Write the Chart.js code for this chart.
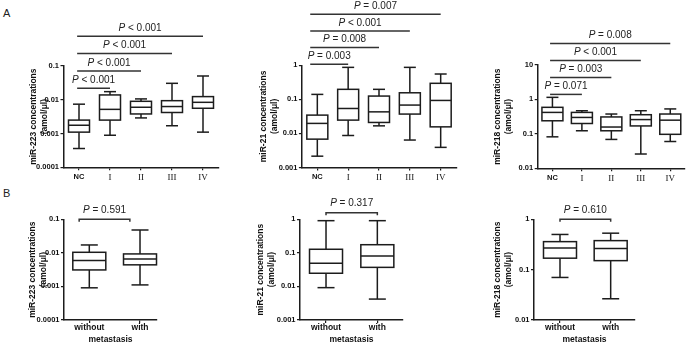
<!DOCTYPE html>
<html>
<head>
<meta charset="utf-8">
<script src="https://cdn.jsdelivr.net/npm/chart.js@4.4.1/dist/chart.umd.min.js"></script>
<style>
  body { margin: 0; background: #fff; }
  #wrap { position: relative; width: 697px; height: 346px; overflow: hidden; font-family: 'Liberation Sans', Arial, sans-serif; }
  #wrap canvas { position: absolute; left: 0; top: 0; }
  .tag { position: absolute; font-size: 11px; line-height: 11px; color: #222; }
</style>
</head>
<body>
<div id="wrap">
  <div class="tag" style="left:3px;top:8px">A</div>
  <div class="tag" style="left:3px;top:188px">B</div>
  <canvas id="a1" width="697" height="346"></canvas>
  <canvas id="a2" width="697" height="346"></canvas>
  <canvas id="a3" width="697" height="346"></canvas>
  <canvas id="b1" width="697" height="346"></canvas>
  <canvas id="b2" width="697" height="346"></canvas>
  <canvas id="b3" width="697" height="346"></canvas>
</div>
<script>
// categories
const stageCats = ['NC', 'I', 'II', 'III', 'IV'];
const metCats = ['without', 'with'];

// miR-223 by stage (amol/ul)
const mir223StageMin = [0.00036, 0.00089, 0.0029, 0.0017, 0.0011];
const mir223StageQ1  = [0.0011, 0.0025, 0.0038, 0.0042, 0.0056];
const mir223StageMed = [0.00176, 0.0052, 0.0060, 0.0063, 0.0084];
const mir223StageQ3  = [0.0025, 0.0139, 0.0090, 0.0094, 0.0124];
const mir223StageMax = [0.0074, 0.0174, 0.0106, 0.0307, 0.0506];

// miR-21 by stage
const mir21StageMin = [0.00215, 0.0087, 0.0167, 0.0064, 0.0039];
const mir21StageQ1  = [0.0068, 0.0246, 0.021, 0.037, 0.0156];
const mir21StageMed = [0.0197, 0.054, 0.043, 0.068, 0.093];
const mir21StageQ3  = [0.0345, 0.197, 0.125, 0.156, 0.296];
const mir21StageMax = [0.14, 0.87, 0.197, 0.87, 0.555];

// miR-218 by stage
const mir218StageMin = [0.082, 0.123, 0.069, 0.026, 0.060];
const mir218StageQ1  = [0.24, 0.20, 0.123, 0.17, 0.097];
const mir218StageMed = [0.42, 0.30, 0.158, 0.26, 0.25];
const mir218StageQ3  = [0.59, 0.42, 0.31, 0.36, 0.377];
const mir218StageMax = [1.15, 0.47, 0.377, 0.47, 0.53];

// by metastasis
const mir223MetMin = [0.00091, 0.00111];
const mir223MetQ1  = [0.0031, 0.0044];
const mir223MetMed = [0.0059, 0.0066];
const mir223MetQ3  = [0.0104, 0.0093];
const mir223MetMax = [0.0172, 0.048];

const mir21MetMin = [0.0092, 0.0042];
const mir21MetQ1  = [0.0247, 0.037];
const mir21MetMed = [0.049, 0.081];
const mir21MetQ3  = [0.128, 0.175];
const mir21MetMax = [0.91, 0.91];

const mir218MetMin = [0.070, 0.0264];
const mir218MetQ1  = [0.169, 0.151];
const mir218MetMed = [0.27, 0.262];
const mir218MetQ3  = [0.36, 0.377];
const mir218MetMax = [0.50, 0.53];

// p values (NC vs I, II, III, IV)
const mir223StageP = [' < 0.001', ' < 0.001', ' < 0.001', ' < 0.001'];
const mir21StageP  = [' = 0.003', ' = 0.008', ' < 0.001', ' = 0.007'];
const mir218StageP = [' = 0.071', ' = 0.003', ' < 0.001', ' = 0.008'];
const mir223MetP = ' = 0.591';
const mir21MetP  = ' = 0.317';
const mir218MetP = ' = 0.610';

// y tick values / labels
const ticks223 = [0.0001, 0.001, 0.01, 0.1];
const labels223 = ['0.0001', '0.001', '0.01', '0.1'];
const ticks21 = [0.001, 0.01, 0.1, 1];
const labels21 = ['0.001', '0.01', '0.1', '1'];
const ticks218Stage = [0.01, 0.1, 1, 10];
const labels218Stage = ['0.01', '0.1', '1', '10'];
const ticks218Met = [0.01, 0.1, 1];
const labels218Met = ['0.01', '0.1', '1'];

const SANS = "'Liberation Sans', Arial, sans-serif";
const INK = '#1c1c1c';

function pText(ctx, rest, cx, cy) {
  const it = 'italic 10px ' + SANS, nf = '10px ' + SANS;
  ctx.font = it;
  const wp = ctx.measureText('P').width;
  ctx.font = nf;
  const wr = ctx.measureText(rest).width;
  const x0 = cx - (wp + wr) / 2;
  ctx.fillStyle = '#222';
  ctx.textAlign = 'left';
  ctx.textBaseline = 'middle';
  ctx.font = it;
  ctx.fillText('P', x0, cy);
  ctx.font = nf;
  ctx.fillText(rest, x0 + wp, cy);
}

// boxes + whiskers under the library-drawn caps/medians, p-value bars on top
const boxLayer = {
  id: 'boxLayer',
  beforeDatasetsDraw(chart, args, o) {
    const {ctx, scales: {x, y}} = chart;
    const s = o.stats;
    ctx.save();
    ctx.lineWidth = 1.5;
    ctx.strokeStyle = INK;
    ctx.fillStyle = '#fff';
    s.med.forEach((m, i) => {
      const cx = x.getPixelForValue(i);
      const top = y.getPixelForValue(s.max[i]);
      const q3 = y.getPixelForValue(s.q3[i]);
      const q1 = y.getPixelForValue(s.q1[i]);
      const bot = y.getPixelForValue(s.min[i]);
      ctx.beginPath();
      ctx.moveTo(cx, top); ctx.lineTo(cx, q3);
      ctx.moveTo(cx, q1); ctx.lineTo(cx, bot);
      ctx.stroke();
      const hw = o.boxWidth / 2;
      ctx.fillRect(cx - hw, q3, hw * 2, q1 - q3);
      ctx.strokeRect(cx - hw, q3, hw * 2, q1 - q3);
    });
    ctx.restore();
  },
  afterDraw(chart, args, o) {
    const {ctx, scales: {x, y}} = chart;
    ctx.save();
    ctx.lineWidth = 1.5;
    ctx.strokeStyle = '#333';
    if (o.sig) {
      const y0 = y.getPixelForValue(o.sig.level);
      const xa = x.getPixelForValue(o.sig.from);
      o.sig.p.forEach((txt, r) => {
        const yy = y0 - r * o.sig.step;
        const xb = x.getPixelForValue(r + 1);
        ctx.beginPath();
        ctx.moveTo(xa, yy); ctx.lineTo(xb, yy);
        ctx.stroke();
        pText(ctx, txt, (xa + xb) / 2, yy - 8);
      });
    }
    if (o.bracket) {
      const b = o.bracket;
      const yy = y.getPixelForValue(b.level);
      const xa = x.getPixelForValue(b.from), xb = x.getPixelForValue(b.to);
      ctx.beginPath();
      ctx.moveTo(xa, yy + 2.5); ctx.lineTo(xa, yy); ctx.lineTo(xb, yy); ctx.lineTo(xb, yy + 2.5);
      ctx.stroke();
      pText(ctx, b.p, (xa + xb) / 2, yy - 9.3);
    }
    ctx.restore();
  }
};

function markSet(vals, r) {
  return {
    data: vals.map((v, i) => ({x: i, y: v})),
    pointStyle: 'line',
    pointRadius: r,
    pointHoverRadius: r,
    borderColor: INK,
    pointBorderWidth: 1.5,
    clip: false
  };
}

function makePanel(id, p) {
  const stats = {min: p.min, q1: p.q1, med: p.med, q3: p.q3, max: p.max};
  const roman = p.cats === stageCats;
  new Chart(document.getElementById(id), {
    type: 'scatter',
    data: {
      datasets: [
        markSet(p.med, p.boxWidth / 2),
        markSet(p.max, p.capWidth / 2),
        markSet(p.min, p.capWidth / 2)
      ]
    },
    options: {
      responsive: false,
      animation: false,
      events: [],
      layout: {
        padding: {left: p.titleLeft, right: 697 - p.right, top: p.top, bottom: 346 - p.bottom - p.xHeight}
      },
      plugins: {
        legend: {display: false},
        tooltip: {enabled: false},
        boxLayer: {stats, boxWidth: p.boxWidth, sig: p.sig, bracket: p.bracket}
      },
      scales: {
        x: {
          type: 'linear',
          min: p.xMin,
          max: p.xMax,
          afterBuildTicks: s => { s.ticks = p.cats.map((c, i) => ({value: i})); },
          afterFit: s => { s.height = p.xHeight; },
          ticks: {
            callback: (v, i) => p.cats[i],
            color: '#111',
            padding: roman ? 2 : 0,
            maxRotation: 0,
            autoSkip: false,
            font: ctx => (roman && ctx.index > 0)
              ? {family: "'Liberation Serif', 'Times New Roman', serif", size: 9}
              : {family: SANS, size: roman ? 7.5 : 8.5, weight: 'bold'}
          },
          grid: {display: true, drawOnChartArea: false, drawTicks: true, tickLength: 3, color: INK, lineWidth: 1.2},
          border: {display: true, color: INK, width: 1.5},
          title: {
            display: !roman,
            text: 'metastasis',
            color: '#111',
            padding: 0,
            font: {family: SANS, size: 8.5, weight: 'bold', lineHeight: 1.3}
          }
        },
        y: {
          type: 'logarithmic',
          min: p.yTicks[0],
          max: p.yTicks[p.yTicks.length - 1],
          afterBuildTicks: s => { s.ticks = p.yTicks.map(v => ({value: v})); },
          afterFit: s => { s.width = p.left - p.titleLeft; },
          ticks: {
            callback: (v, i) => p.yLabels[i],
            color: '#111',
            padding: 1.5,
            font: {family: SANS, size: 7.5, weight: 'bold'}
          },
          grid: {display: true, drawOnChartArea: false, drawTicks: true, tickLength: 3, color: INK, lineWidth: 1.2},
          border: {display: true, color: INK, width: 1.5},
          title: {
            display: true,
            text: [p.yTitle, '(amol/\u03bcl)'],
            color: '#111',
            padding: 0,
            font: {family: SANS, size: 8.5, weight: 'bold', lineHeight: 1.3}
          }
        }
      }
    },
    plugins: [boxLayer]
  });
}

const stageBox = {cats: stageCats, xMin: -0.5, xMax: 4.5, boxWidth: 21, capWidth: 12, xHeight: 14};
const metBox = {cats: metCats, boxWidth: 33, capWidth: 17, xHeight: 25.5};

makePanel('a1', Object.assign({}, stageBox, {
  titleLeft: 28, left: 63.5, right: 218.5, top: 66, bottom: 167.3,
  yTicks: ticks223, yLabels: labels223, yTitle: 'miR-223 concentrations',
  min: mir223StageMin, q1: mir223StageQ1, med: mir223StageMed, q3: mir223StageQ3, max: mir223StageMax,
  sig: {level: 0.022, step: 17.3, from: -0.06, p: mir223StageP}
}));
makePanel('a2', Object.assign({}, stageBox, {
  titleLeft: 258.5, left: 301.9, right: 456.1, top: 65.3, bottom: 167.5,
  yTicks: ticks21, yLabels: labels21, yTitle: 'miR-21 concentrations',
  min: mir21StageMin, q1: mir21StageQ1, med: mir21StageMed, q3: mir21StageQ3, max: mir21StageMax,
  sig: {level: 1.07, step: 16.7, from: -0.23, p: mir21StageP}
}));
makePanel('a3', Object.assign({}, stageBox, {
  titleLeft: 491.8, left: 537.7, right: 693.9, top: 65, bottom: 168.3,
  yTicks: ticks218Stage, yLabels: labels218Stage, yTitle: 'miR-218 concentrations',
  min: mir218StageMin, q1: mir218StageQ1, med: mir218StageMed, q3: mir218StageQ3, max: mir218StageMax,
  sig: {level: 1.4, step: 17, from: -0.08, p: mir218StageP}
}));
makePanel('b1', Object.assign({}, metBox, {
  titleLeft: 27.5, left: 64, right: 157, top: 219.3, bottom: 320, xMin: -0.499, xMax: 1.335,
  yTicks: ticks223, yLabels: labels223, yTitle: 'miR-223 concentrations',
  min: mir223MetMin, q1: mir223MetQ1, med: mir223MetMed, q3: mir223MetQ3, max: mir223MetMax,
  bracket: {level: 0.1, from: -0.2, to: 0.8, p: mir223MetP}
}));
makePanel('b2', Object.assign({}, metBox, {
  titleLeft: 255.2, left: 300, right: 403, top: 219.3, bottom: 320, xMin: -0.507, xMax: 1.5,
  yTicks: ticks21, yLabels: labels21, yTitle: 'miR-21 concentrations',
  min: mir21MetMin, q1: mir21MetQ1, med: mir21MetMed, q3: mir21MetQ3, max: mir21MetMax,
  bracket: {level: 1.57, from: 0, to: 1, p: mir21MetP}
}));
makePanel('b3', Object.assign({}, metBox, {
  titleLeft: 491.8, left: 534, right: 635, top: 219.3, bottom: 320, xMin: -0.513, xMax: 1.48,
  yTicks: ticks218Met, yLabels: labels218Met, yTitle: 'miR-218 concentrations',
  min: mir218MetMin, q1: mir218MetQ1, med: mir218MetMed, q3: mir218MetQ3, max: mir218MetMax,
  bracket: {level: 1, from: 0, to: 1, p: mir218MetP}
}));
</script>
</body>
</html>
